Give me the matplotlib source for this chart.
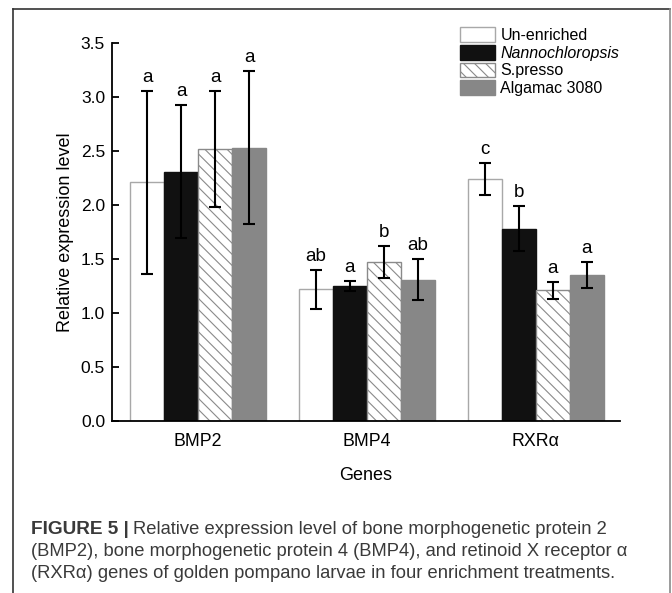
import numpy as np
import matplotlib
matplotlib.use("Agg")
import matplotlib.pyplot as plt
from matplotlib.patches import Patch
from matplotlib.lines import Line2D

plt.rcParams['font.family'] = ['Liberation Sans', 'DejaVu Sans']
plt.rcParams['hatch.linewidth'] = 0.8

genes = ['BMP2', 'BMP4', 'RXRα']
treatments = ['Un-enriched', 'Nannochloropsis', 'S.presso', 'Algamac 3080']

means = [
    [2.21, 1.22, 2.24],   # Un-enriched
    [2.31, 1.25, 1.78],   # Nannochloropsis
    [2.52, 1.47, 1.21],   # S.presso
    [2.53, 1.31, 1.35],   # Algamac 3080
]
errs = [
    [0.85, 0.18, 0.15],
    [0.62, 0.05, 0.21],
    [0.54, 0.15, 0.08],
    [0.71, 0.19, 0.12],
]
letters = [
    ['a', 'ab', 'c'],
    ['a', 'a', 'b'],
    ['a', 'b', 'a'],
    ['a', 'ab', 'a'],
]

styles = [
    dict(facecolor='white', edgecolor='#a8a8a8', hatch=None),
    dict(facecolor='#111111', edgecolor='#111111', hatch=None),
    dict(facecolor='white', edgecolor='#8a8a8a', hatch='\\\\\\'),
    dict(facecolor='#878787', edgecolor='#878787', hatch=None),
]

fig = plt.figure(figsize=(6.72, 5.93), dpi=100)
ax = fig.add_axes([112/672, 172/593, 508/672, 378/593])

x = np.arange(len(genes))
w = 0.2015
for i in range(4):
    pos = x + (i - 1.5) * w
    ax.bar(pos, means[i], w, linewidth=1.0, label=treatments[i], **styles[i])
    ax.errorbar(pos, means[i], yerr=errs[i], fmt='none', ecolor='black',
                elinewidth=1.5, capsize=4, capthick=1.5)
    for j in range(len(genes)):
        ax.annotate(letters[i][j], (pos[j], means[i][j] + errs[i][j]),
                    xytext=(0, 3.5), textcoords='offset points',
                    ha='center', va='bottom', fontsize=13.5)

ax.set_xlim(-0.51, 2.50)
ax.set_ylim(0, 3.5)
ax.set_yticks(np.arange(0, 3.51, 0.5))
ax.set_yticklabels(['%.1f' % v for v in np.arange(0, 3.51, 0.5)])
ax.set_xticks(x)
ax.set_xticklabels(genes)
ax.spines['top'].set_visible(False)
ax.spines['right'].set_visible(False)
ax.spines['left'].set_linewidth(1.3)
ax.spines['bottom'].set_linewidth(1.3)
ax.tick_params(axis='y', direction='in', length=5, width=1.3, pad=5, labelsize=12.5)
ax.tick_params(axis='x', length=0, pad=9, labelsize=12.8)
ax.set_ylabel('Relative expression level', fontsize=13, labelpad=5)
ax.set_xlabel('Genes', fontsize=13, labelpad=12)

handles = [Patch(label=treatments[i], linewidth=1.0, **styles[i]) for i in range(4)]
leg = fig.legend(handles=handles, loc='upper left',
                 bbox_to_anchor=(460/672, 1 - 27/593), frameon=False,
                 fontsize=11.5, handlelength=2.2, handleheight=1.05,
                 handletextpad=0.33, labelspacing=0.12, borderpad=0,
                 borderaxespad=0)
leg.get_texts()[1].set_fontstyle('italic')

# frame around figure panel
fig.add_artist(Line2D([13/672, 13/672], [0, 1 - 9/593], transform=fig.transFigure,
                      color='#333333', lw=1.2))
fig.add_artist(Line2D([13/672, 670/672], [1 - 9/593, 1 - 9/593], transform=fig.transFigure,
                      color='#333333', lw=1.2))
fig.add_artist(Line2D([670/672, 670/672], [0, 1 - 9/593], transform=fig.transFigure,
                      color='#8a8a8a', lw=1.2))

# caption
cap_color = '#3a3a3a'
cap_size = 13.2
lines_y = [530, 552, 573]
t0 = fig.text(31/672, 1 - lines_y[0]/593, 'FIGURE 5 |', fontsize=cap_size + 0.5,
              fontweight='bold', color=cap_color, va='center')
fig.canvas.draw()
bb = t0.get_window_extent()
fig.text(bb.x1 / fig.bbox.width + 4/672, 1 - lines_y[0]/593,
         'Relative expression level of bone morphogenetic protein 2',
         fontsize=cap_size, color=cap_color, va='center')
fig.text(31/672, 1 - lines_y[1]/593,
         '(BMP2), bone morphogenetic protein 4 (BMP4), and retinoid X receptor α',
         fontsize=cap_size, color=cap_color, va='center')
fig.text(31/672, 1 - lines_y[2]/593,
         '(RXRα) genes of golden pompano larvae in four enrichment treatments.',
         fontsize=cap_size, color=cap_color, va='center')

fig.savefig('out.png', dpi=100)
